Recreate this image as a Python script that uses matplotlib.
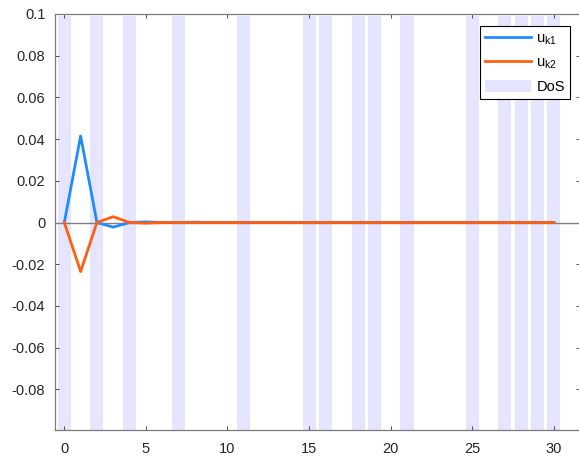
import matplotlib
matplotlib.use("Agg")
import matplotlib.pyplot as plt
import numpy as np

# ---- data ----
k = list(range(31))
u_k1 = [0, 0.0415, 0, -0.0022, 0, 0.0003, 0, 0, 0.0002, 0, 0, 0.0001] + [0] * 19
u_k2 = [0, -0.0235, 0, 0.0028, 0, -0.0003, 0, 0, 0, 0, 0, 0] + [0] * 19
dos_k = [0, 2, 4, 7, 11, 15, 16, 18, 19, 21, 25, 27, 28, 29, 30]
xticks = [0, 5, 10, 15, 20, 25, 30]
yticks = [0.1, 0.08, 0.06, 0.04, 0.02, 0, -0.02, -0.04, -0.06, -0.08]
ytick_labels = ["0.1", "0.08", "0.06", "0.04", "0.02", "0", "-0.02", "-0.04", "-0.06", "-0.08"]

plt.rcParams['font.family'] = ['Liberation Sans', 'DejaVu Sans']
plt.rcParams['mathtext.fontset'] = 'custom'
plt.rcParams['mathtext.rm'] = 'Liberation Sans'
plt.rcParams['axes.unicode_minus'] = False

W, H = 579, 458
fig = plt.figure(figsize=(W / 100, H / 100), dpi=100)
left, right, top, bottom = 55, 580, 14, 430
ax = fig.add_axes([left / W, 1 - bottom / H, (right - left) / W, (bottom - top) / H])

ylo, yhi = -0.0995, 0.1
ax.set_xlim(-0.57, 31.6)
ax.set_ylim(ylo, yhi)

band_color = '#E5E5FF'
ax.bar(dos_k, [0.099 - ylo] * len(dos_k), bottom=ylo, width=0.8,
       color=band_color, edgecolor='none', label='DoS', zorder=1)
ax.axhline(0, color='#808080', lw=1.0, zorder=2)
ax.plot(k, u_k1, color='#1E8CFF', lw=2.0, label=r'$\mathregular{u_{k1}}$', zorder=3)
ax.plot(k, u_k2, color='#FF5F0F', lw=2.0, label=r'$\mathregular{u_{k2}}$', zorder=3)

ax.set_xticks(xticks)
ax.set_yticks(yticks)
ax.set_yticklabels(ytick_labels)
ax.tick_params(direction='in', length=3, width=0.6, colors='#333333',
               labelsize=10.5, top=True, right=True, labelcolor='#262626')
ax.tick_params(axis='x', pad=8.5)
ax.tick_params(axis='y', pad=7)
for s in ax.spines.values():
    s.set_color('#7a7a7a')
    s.set_linewidth(0.9)

handles, labels = ax.get_legend_handles_labels()
leg = ax.legend(handles, labels,
                loc='upper right', bbox_to_anchor=(570 / W, 1 - 26 / H),
                bbox_transform=fig.transFigure, borderaxespad=0,
                fancybox=False, edgecolor='black', framealpha=1,
                fontsize=10.5, handlelength=3.2, handletextpad=0.35,
                labelspacing=0.62, borderpad=0.35, handleheight=0.9)
leg.get_frame().set_linewidth(0.8)

fig.savefig('out.png', dpi=100)
